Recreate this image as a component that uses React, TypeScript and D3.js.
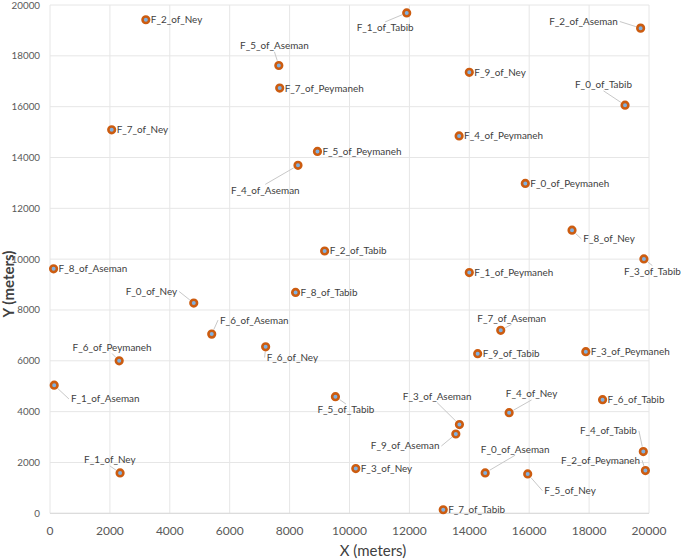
import React, { useEffect, useRef } from "react";
import * as d3 from "d3";

const names = [
  "F_2_of_Ney", "F_7_of_Ney", "F_1_of_Tabib", "F_5_of_Aseman", "F_7_of_Peymaneh",
  "F_5_of_Peymaneh", "F_4_of_Aseman", "F_2_of_Aseman", "F_9_of_Ney", "F_0_of_Tabib",
  "F_4_of_Peymaneh", "F_0_of_Peymaneh", "F_8_of_Aseman", "F_0_of_Ney", "F_6_of_Aseman",
  "F_6_of_Peymaneh", "F_2_of_Tabib", "F_8_of_Tabib", "F_6_of_Ney", "F_8_of_Ney",
  "F_3_of_Tabib", "F_1_of_Peymaneh", "F_7_of_Aseman", "F_9_of_Tabib", "F_3_of_Peymaneh",
  "F_1_of_Aseman", "F_1_of_Ney", "F_5_of_Tabib", "F_3_of_Aseman", "F_9_of_Aseman",
  "F_3_of_Ney", "F_7_of_Tabib", "F_4_of_Ney", "F_6_of_Tabib", "F_4_of_Tabib",
  "F_2_of_Peymaneh", "F_0_of_Aseman", "F_5_of_Ney",
];
const xValues = [
  3200, 2060, 11910, 7640, 7670,
  8930, 8280, 19720, 14000, 19200,
  13660, 15870, 120, 4800, 5400,
  2310, 9170, 8200, 7200, 17430,
  19830, 14000, 15050, 14280, 17890,
  140, 2340, 9530, 13670, 13550,
  10210, 13130, 15330, 18450, 19810,
  19880, 14530, 15950,
];
const yValues = [
  19420, 15090, 19690, 17620, 16730,
  14240, 13690, 19090, 17350, 16060,
  14850, 12980, 9620, 8270, 7050,
  6000, 10320, 8690, 6550, 11140,
  10010, 9470, 7200, 6280, 6360,
  5040, 1590, 4590, 3490, 3120,
  1760, 140, 3960, 4470, 2430,
  1680, 1590, 1550,
];
// label offsets (px) from marker: text left edge, text vertical centre
const labelDx = [
  5, 5, -50, -38.7, 5,
  5, -67, -91.4, 5, -50,
  5, 5, 5, -68, 8.3,
  -46.6, 5, 5, 1, 11.3,
  -20, 5, -23.4, 5, 5,
  16.7, -36, -18, -56.6, -85,
  5, 5, -3.3, 5, -63.3,
  -84.3, -4.3, 16.6,
];
const labelDy = [
  0, 0, 15, -19.7, 0,
  0, 25, -6.6, 0, -20.3,
  0, 0, 0, -11.6, -14,
  -13.3, 0, 0, 10.7, 8.7,
  12.7, 0, -12, 0, 0,
  13.7, -13, 13.3, -28, 12,
  0, 0, -18.7, 0, -20.7,
  -10.4, -23.7, 16.7,
];
const xTicks = [0, 2000, 4000, 6000, 8000, 10000, 12000, 14000, 16000, 18000, 20000];
const yTicks = [0, 2000, 4000, 6000, 8000, 10000, 12000, 14000, 16000, 18000, 20000];

const W = 685;
const H = 559;

export default function App() {
  const ref = useRef<SVGSVGElement>(null);
  useEffect(() => {
    const svg = d3.select(ref.current);
    svg.selectAll("*").remove();
    const x = d3.scaleLinear().domain([0, 20000]).range([50, 649]);
    const y = d3.scaleLinear().domain([0, 20000]).range([513.3, 5]);
    const font = "Lato, Carlito, Calibri, 'Liberation Sans', sans-serif";

    const g = svg.append("g");
    // gridlines
    g.selectAll("line.vg").data(xTicks).enter().append("line")
      .attr("x1", (d) => x(d)).attr("x2", (d) => x(d))
      .attr("y1", y(0)).attr("y2", y(20000))
      .attr("stroke", "#e6e6e6").attr("stroke-width", 1);
    g.selectAll("line.hg").data(yTicks).enter().append("line")
      .attr("x1", x(0)).attr("x2", x(20000))
      .attr("y1", (d) => y(d)).attr("y2", (d) => y(d))
      .attr("stroke", "#e6e6e6").attr("stroke-width", 1);
    // bottom axis line
    g.append("line").attr("x1", x(0)).attr("x2", x(20000)).attr("y1", y(0)).attr("y2", y(0))
      .attr("stroke", "#d9d9d9");

    // tick labels
    g.selectAll("text.xt").data(xTicks).enter().append("text")
      .attr("x", (d) => x(d)).attr("y", 531).attr("dy", "0.35em")
      .attr("text-anchor", "middle").attr("font-family", font).attr("font-size", 12)
      .attr("fill", "#595959").text((d) => String(d));
    g.selectAll("text.yt").data(yTicks).enter().append("text")
      .attr("x", 40).attr("y", (d) => Math.max(y(d), 6)).attr("dy", "0.35em")
      .attr("text-anchor", "end").attr("font-family", font).attr("font-size", 9.8)
      .attr("fill", "#595959").text((d) => String(d));

    // axis titles
    g.append("text").attr("x", 373).attr("y", 551).attr("dy", "0.35em")
      .attr("text-anchor", "middle").attr("font-family", font).attr("font-size", 15)
      .attr("fill", "#404040").text("X (meters)");
    g.append("text").attr("transform", "translate(9,284) rotate(-90)").attr("dy", "0.35em")
      .attr("text-anchor", "middle").attr("font-family", font).attr("font-size", 15)
      .attr("font-weight", "bold").attr("fill", "#404040").text("Y (meters)");

    const leaders = g.append("g");
    const labels = g.append("g");
    const markers = g.append("g");

    names.forEach((name, i) => {
      const px = x(xValues[i]);
      const py = y(yValues[i]);
      const t = labels.append("text")
        .attr("x", px + labelDx[i]).attr("y", py + labelDy[i]).attr("dy", "0.35em")
        .attr("font-family", font).attr("font-size", 9.9).attr("fill", "#404040")
        .text(name);
      const node = t.node() as SVGTextElement;
      const w = node.getComputedTextLength();
      const left = px + labelDx[i];
      const right = left + w;
      const top = py + labelDy[i] - 6;
      const bottom = py + labelDy[i] + 6;
      let ax: number, ay: number;
      if (px >= left && px <= right) {
        ax = (left + right) / 2;
        ay = py < top ? top : bottom;
      } else if (px < left) {
        ax = left - 2; ay = py + labelDy[i];
      } else {
        ax = right + 2; ay = py + labelDy[i];
      }
      const dist = Math.hypot(ax - px, ay - py);
      if (dist > 9 && !(labelDx[i] === 5 && labelDy[i] === 0)) {
        const ux = (ax - px) / dist, uy = (ay - py) / dist;
        leaders.append("line")
          .attr("x1", px + ux * 5).attr("y1", py + uy * 5)
          .attr("x2", ax).attr("y2", ay)
          .attr("stroke", "#c8c8c8").attr("stroke-width", 1);
      }
      markers.append("circle").attr("cx", px).attr("cy", py).attr("r", 3.3)
        .attr("fill", "#7fb0e0").attr("stroke", "#cc5c10").attr("stroke-width", 2.6);
    });
  }, []);
  return (
    <svg ref={ref} width={W} height={H}
      style={{ position: "absolute", left: 0, top: 0, background: "#ffffff" }} />
  );
}
